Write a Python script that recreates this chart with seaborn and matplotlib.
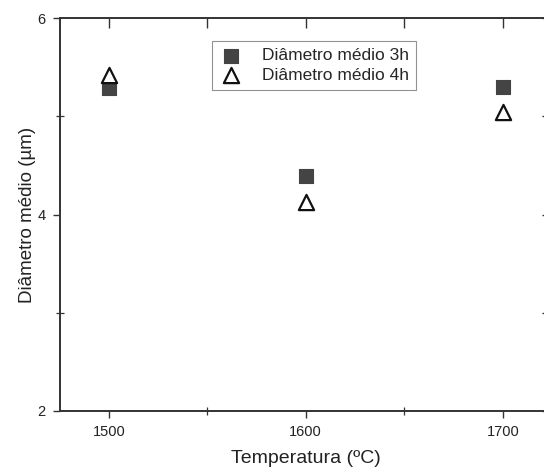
import matplotlib
matplotlib.use("Agg")
import matplotlib.pyplot as plt
import seaborn as sns
import pandas as pd
from matplotlib.ticker import MultipleLocator

sns.set_style("white")
plt.rcParams["font.family"] = ["Liberation Sans", "DejaVu Sans"]

# Sintering temperature (ºC) and mean grain diameter (µm)
temperatures = [1500, 1600, 1700]
diam_3h = [5.29, 4.39, 5.30]
diam_4h = [5.42, 4.13, 5.04]
series_names = ["Diâmetro médio 3h", "Diâmetro médio 4h"]

df = pd.DataFrame({
    "Temperatura": temperatures * 2,
    "Diametro": diam_3h + diam_4h,
    "Serie": [series_names[0]] * 3 + [series_names[1]] * 3,
})

fig = plt.figure(figsize=(5.44, 4.76), dpi=100)
ax = fig.add_axes([59.5 / 544, 65 / 476, (552 - 59.5) / 544, (411 - 18) / 476])

ink = "#333333"
sns.scatterplot(
    data=df[df["Serie"] == series_names[0]], x="Temperatura", y="Diametro",
    marker="s", s=95, color="#444444", edgecolor="#444444", linewidth=0.8,
    label=series_names[0], ax=ax, zorder=3,
)
sns.scatterplot(
    data=df[df["Serie"] == series_names[1]], x="Temperatura", y="Diametro",
    marker="^", s=120, facecolor="white", edgecolor="#111111", linewidth=1.6,
    label=series_names[1], ax=ax, zorder=4,
)

ax.set_xlim(1475, 1725)
ax.set_ylim(2, 6)
ax.set_xticks(temperatures)
ax.set_yticks([2, 4, 6])
ax.xaxis.set_minor_locator(MultipleLocator(50))
ax.yaxis.set_minor_locator(MultipleLocator(1))

for side in ["left", "bottom", "top", "right"]:
    ax.spines[side].set_visible(True)
    ax.spines[side].set_color(ink)
    ax.spines[side].set_linewidth(1.4)

ax.tick_params(axis="both", which="both", bottom=True, left=True, top=False, right=False)
ax.tick_params(axis="both", which="major", direction="out", length=5, width=1.0,
               color=ink, labelsize=10.5, labelcolor="#222222", pad=5)
ax.tick_params(axis="both", which="minor", direction="inout", length=6, width=0.9, color=ink)

top = ax.secondary_xaxis("top")
top.set_xticks(temperatures)
top.xaxis.set_minor_locator(MultipleLocator(50))
top.tick_params(which="both", top=True, direction="in", length=7, width=1.0, color=ink,
                labeltop=False)
top.spines["top"].set_visible(False)
right = ax.secondary_yaxis("right")
right.set_yticks([2, 4, 6])
right.yaxis.set_minor_locator(MultipleLocator(1))
right.tick_params(which="both", right=True, direction="in", length=7, width=1.0, color=ink,
                  labelright=False)
right.spines["right"].set_visible(False)

ax.set_xlabel("Temperatura (ºC)", fontsize=14, color="#222222", labelpad=8)
ax.set_ylabel("Diâmetro médio (µm)", fontsize=13.5, color="#222222", labelpad=1)

leg = ax.legend(
    loc="upper left", bbox_to_anchor=(212 / 544, 1 - 41 / 476),
    bbox_transform=fig.transFigure, borderaxespad=0, frameon=True,
    fancybox=False, fontsize=12.5, handletextpad=1.1, borderpad=0.4,
    labelspacing=0.25, handlelength=1.4,
)
leg.get_frame().set_edgecolor("#777777")
leg.get_frame().set_linewidth(0.8)

fig.savefig("out.png", dpi=100)
